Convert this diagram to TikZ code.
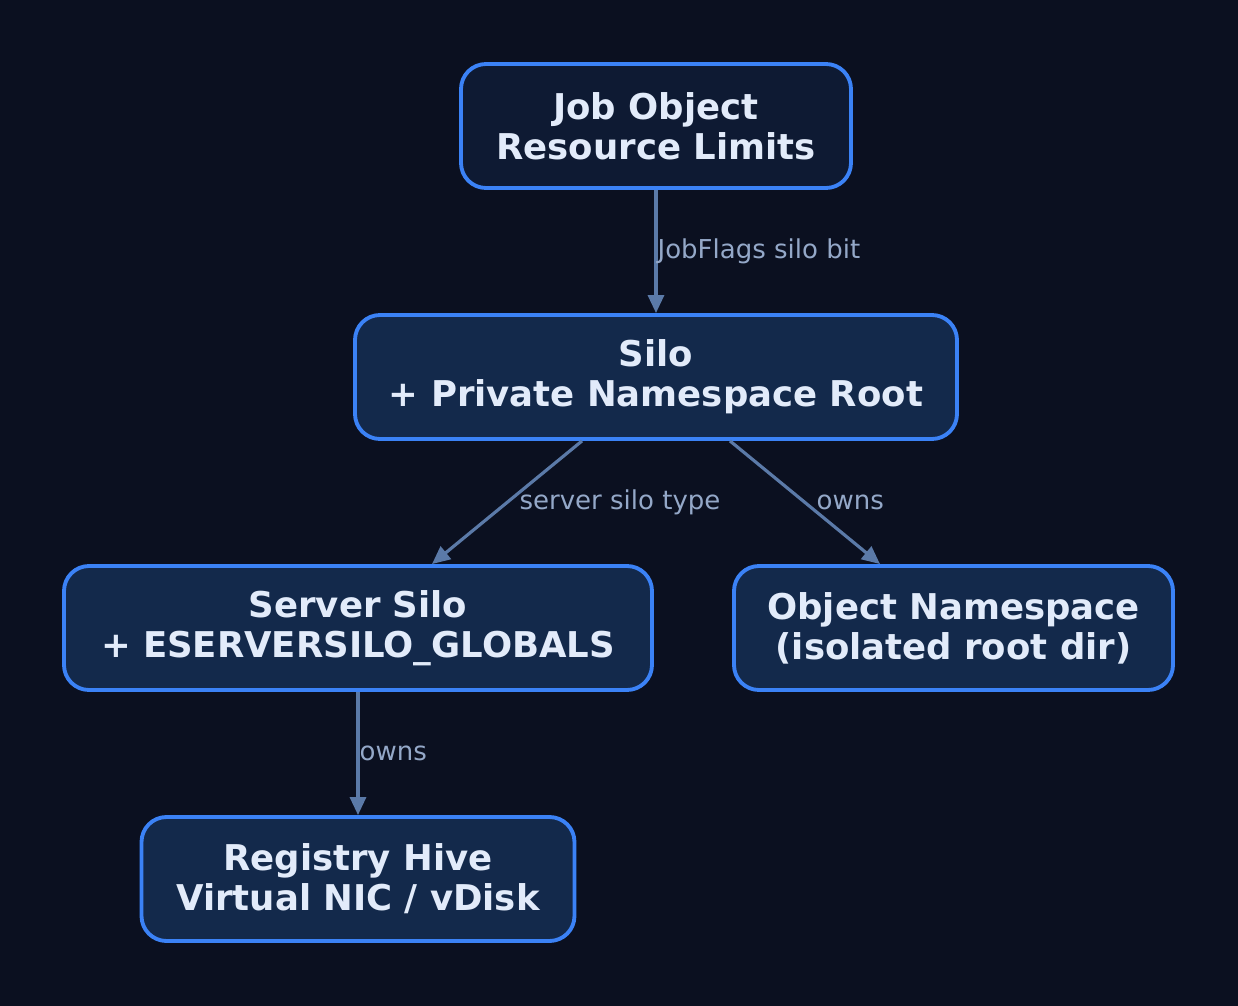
\documentclass[tikz,border=0pt]{standalone}
\usepackage{fontspec}
\setmainfont{DejaVu Sans}
\usepackage{tikz}
\usetikzlibrary{positioning, arrows.meta}
\definecolor{bgDark}{HTML}{0B1020}
\definecolor{boxTop}{HTML}{0E1A33}
\definecolor{boxFill}{HTML}{13294B}
\definecolor{boxLine}{HTML}{3B82F6}
\definecolor{boxText}{HTML}{E2EBFA}
\definecolor{edgeCol}{HTML}{5B7AA8}
\definecolor{lblCol}{HTML}{94A8C8}

\begin{document}
\begin{tikzpicture}[box/.style={draw=boxLine, fill=boxFill, line width=2.2pt, rounded corners=0.5cm, minimum height=2.48cm, align=center, text=boxText, font=\fontsize{20.2}{22.7}\selectfont\bfseries},edge/.style={draw=edgeCol, line width=1.8pt, -{Triangle[length=0.36cm, width=0.32cm]}},lbl/.style={font=\fontsize{14.8}{17}\selectfont, text=lblCol, anchor=west, inner sep=0pt}]
\fill[bgDark] (0,0) rectangle (24.76,-20.12);
\useasboundingbox (0,0) rectangle (24.76,-20.12);
\node[box, fill=boxTop, minimum width=7.8cm] (job) at (13.12,-2.52) {Job Object\\Resource Limits};
\node[box, minimum width=12.04cm] (silo) at (13.12,-7.54) {Silo\\+ Private Namespace Root};
\node[box, minimum width=11.76cm] (srvsilo) at (7.16,-12.56) {Server Silo\\+ ESERVERSILO\_GLOBALS};
\node[box, minimum width=8.78cm] (objns) at (19.07,-12.56) {Object Namespace\\(isolated root dir)};
\node[box, minimum width=8.66cm] (reghive) at (7.16,-17.58) {Registry Hive\\Virtual NIC / vDisk};
\draw[edge] (job.south) -- (silo.north) node[lbl, midway] {JobFlags silo bit};
\draw[edge] ([xshift=-1.48cm]silo.south) -- ([xshift=1.48cm]srvsilo.north) node[lbl, midway, xshift=0.22cm] {server silo type};
\draw[edge] ([xshift=1.48cm]silo.south) -- ([xshift=-1.47cm]objns.north) node[lbl, midway, xshift=0.2cm] {owns};
\draw[edge] (srvsilo.south) -- (reghive.north) node[lbl, midway] {owns};
\end{tikzpicture}
\end{document}
